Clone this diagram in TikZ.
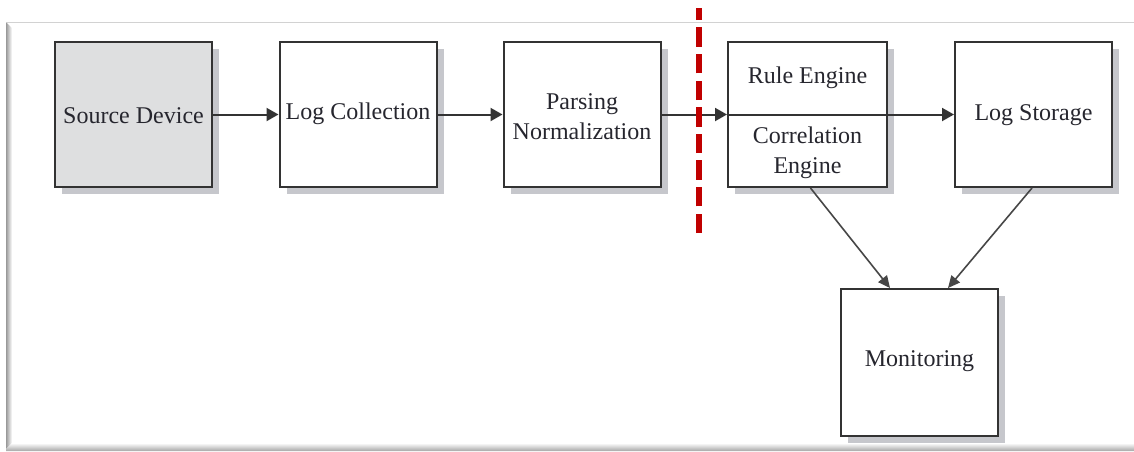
\documentclass[tikz,border=0pt]{standalone}
\usepackage{fontspec}
\setmainfont{Liberation Serif}
\usetikzlibrary{arrows.meta,shadows,calc}

\definecolor{boxline}{HTML}{333333}
\definecolor{srcfill}{HTML}{DEDFE0}
\definecolor{shadowgray}{HTML}{C6C7CC}
\definecolor{textdark}{HTML}{26262E}
\definecolor{cutred}{HTML}{C00000}
\definecolor{framegray}{HTML}{D2D2D2}

\tikzset{
  block/.style={draw=boxline, line width=2pt, fill=white,
    minimum width=157pt, minimum height=145pt, inner sep=0pt,
    align=center, text=textdark, font=\fontsize{24}{30}\selectfont,
    drop shadow={shadow xshift=7pt, shadow yshift=-7pt, fill=shadowgray, opacity=1}},
  label text/.style={text=textdark, align=center, inner sep=0pt,
    font=\fontsize{24}{30}\selectfont},
  flow/.style={draw=boxline, line width=2pt,
    -{Triangle[length=12pt,width=13pt]}},
  feed/.style={draw=boxline!90, line width=1.6pt,
    -{Triangle[length=12pt,width=11pt]}},
  cutline/.style={draw=cutred, line width=6pt, dash pattern=on 19.5pt off 7.1pt}
}

\begin{document}
\begin{tikzpicture}[x=1pt,y=-1pt]
  \useasboundingbox (0,0) rectangle (1134,451);
  \fill[white] (0,0) rectangle (1134,451);

  % page frame: thin top rule, bevelled left and bottom edges
  \draw[framegray, line width=1pt] (7,22) -- (1134,22);
  \shade[left color=black!40, right color=white] (6,22) -- (12,28) -- (12,443) -- (6,449) -- cycle;
  \shade[top color=white, bottom color=black!35] (12,443) -- (1134,443) -- (1134,451) -- (6,451) -- (6,449) -- cycle;

  % processing stages
  \node[block, fill=srcfill] (src)   at (133.5,114.5) {};
  \node[block]               (coll)  at (358,114.5)   {};
  \node[block]               (parse) at (582,114.5)   {};
  \node[block, minimum width=159pt] (engine) at (807.5,114.5) {};
  \node[block]               (store) at (1033.5,114.5) {};
  \node[block, minimum height=147pt] (mon) at (919.5,362.5) {};

  % stage titles
  \node[label text] (srct)   at (133.5,116)  {Source Device};
  \node[label text] (collt)  at (358,114)    {Log Collection};
  \node[label text] (parset) at (582,116.5)  {Parsing\\Normalization};
  \node[label text] (rule)   at (807.5,78)   {Rule Engine};
  \node[label text] (corr)   at (807.5,152.5) {Correlation\\Engine};
  \node[label text] (storet) at (1033.5,115) {Log Storage};
  \node[label text] (mont)   at (919.5,361)  {Monitoring};

  % main flow
  \draw[flow] (src.east) -- (coll.west);
  \draw[flow] (coll.east) -- (parse.west);
  \draw[flow] (parse.east) -- (engine.west);
  \draw[boxline, line width=2pt] (engine.west) -- (engine.east);
  \draw[flow] (engine.east) -- (store.west);

  % feeds into monitoring
  \draw[feed] ([xshift=3pt]engine.south) -- ([xshift=-29.5pt]mon.north);
  \draw[feed] ([xshift=-1.5pt]store.south) -- ([xshift=28.5pt]mon.north);

  % boundary marker
  \coordinate (cutB) at (698.5,233);
  \coordinate (cutT) at (698.5,8);
  \draw[cutline] (cutB) -- (cutT);
\end{tikzpicture}
\end{document}
